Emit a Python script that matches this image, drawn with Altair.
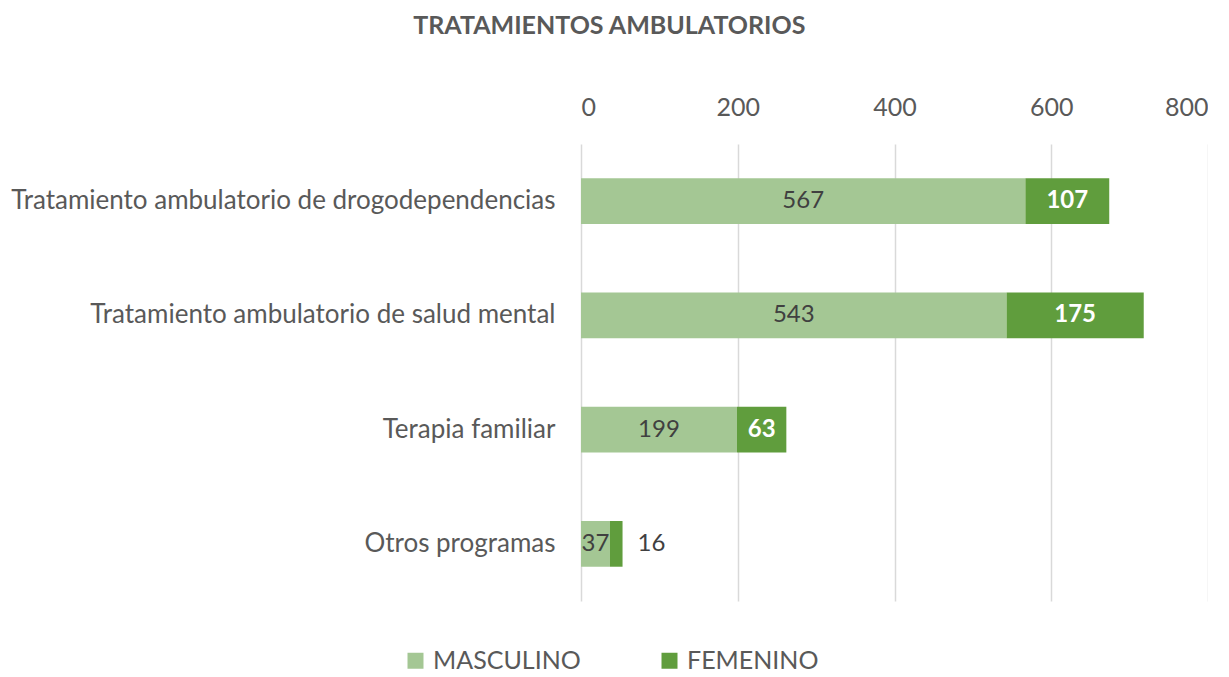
import altair as alt
import pandas as pd

categories = [
    "Tratamiento ambulatorio de drogodependencias",
    "Tratamiento ambulatorio de salud mental",
    "Terapia familiar",
    "Otros programas",
]
masculino = [567, 543, 199, 37]
femenino = [107, 175, 63, 16]
series = ["MASCULINO", "FEMENINO"]
colors = ["#A4C794", "#609D3D"]
x_ticks = [0, 200, 400, 600, 800]

rows = []
for c, m, f in zip(categories, masculino, femenino):
    rows.append({"cat": c, "serie": "MASCULINO", "val": m, "ord": 0})
    rows.append({"cat": c, "serie": "FEMENINO", "val": f, "ord": 1})
df = pd.DataFrame(rows)

FONT = "Lato"
GREY = "#595959"

base = alt.Chart(df).transform_stack(
    stack="val", groupby=["cat"], sort=[alt.SortField("ord")], as_=["x0", "x1"]
).transform_calculate(
    mid="(datum.x0 + datum.x1) / 2",
)

yenc = alt.Y(
    "cat:N",
    sort=categories,
    title=None,
    scale=alt.Scale(paddingInner=0.6, paddingOuter=0.3),
    axis=alt.Axis(
        labelFontSize=26, labelColor=GREY, labelFont=FONT, labelPadding=26,
        domain=False, ticks=False, grid=False, labelLimit=700,
    ),
)

bars = base.mark_bar().encode(
    y=yenc,
    x=alt.X(
        "x0:Q",
        title=None,
        scale=alt.Scale(domain=[0, 800], nice=False),
        axis=alt.Axis(
            orient="top", values=x_ticks, labelFontSize=25, labelColor=GREY,
            labelFont=FONT, labelPadding=24, domain=False, ticks=False,
            gridColor="#D9D9D9", gridWidth=1.5,
        ),
    ),
    x2="x1:Q",
    color=alt.Color(
        "serie:N",
        scale=alt.Scale(domain=series, range=colors),
        sort=series,
        legend=alt.Legend(
            title=None, orient="none", direction="horizontal",
            legendX=-178, legendY=504,
            labelFontSize=25, labelColor=GREY, labelFont=FONT,
            symbolType="square", symbolSize=256, symbolStrokeWidth=0,
            columnPadding=76, labelOffset=5,
        ),
    ),
)

text_m = base.transform_filter("datum.serie == 'MASCULINO'").mark_text(
    fontSize=24, font=FONT, color="#404040"
).encode(y=alt.Y("cat:N", sort=categories), x="mid:Q", text="val:Q")

text_f_in = base.transform_filter(
    "datum.serie == 'FEMENINO' && datum.val >= 30"
).mark_text(fontSize=24, font=FONT, color="white", fontWeight="bold").encode(
    y=alt.Y("cat:N", sort=categories), x="mid:Q", text="val:Q"
)

text_f_out = base.transform_filter(
    "datum.serie == 'FEMENINO' && datum.val < 30"
).mark_text(fontSize=24, font=FONT, color="#404040", align="left", dx=15).encode(
    y=alt.Y("cat:N", sort=categories), x="x1:Q", text="val:Q"
)

chart = alt.layer(bars, text_m, text_f_in, text_f_out).properties(
    width=627,
    height=457,
    padding={"left": 2, "top": 6, "right": 0, "bottom": 0},
    title=alt.TitleParams(
        "TRATAMIENTOS AMBULATORIOS", fontSize=25, font=FONT, fontWeight="bold",
        color=GREY, anchor="middle", frame="bounds", offset=56,
    ),
).configure_view(stroke=None)

chart.save("out.html", embed_options={"renderer": "svg", "actions": False})
